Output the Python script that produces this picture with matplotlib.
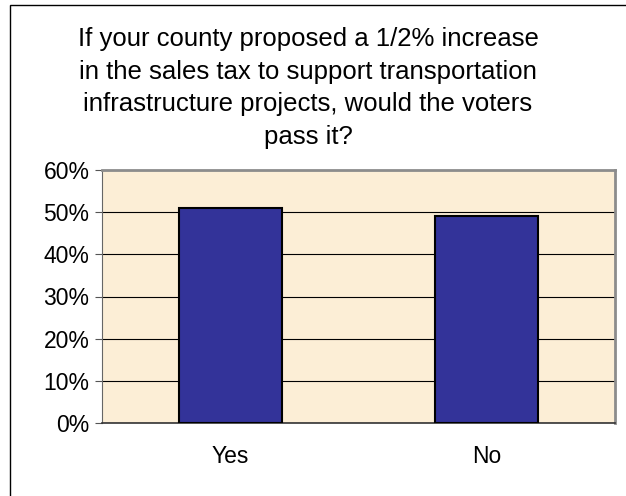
import matplotlib
matplotlib.use("Agg")
import matplotlib.pyplot as plt
from matplotlib.patches import Rectangle
from matplotlib.ticker import PercentFormatter

plt.rcParams['font.family'] = ['Liberation Sans', 'DejaVu Sans']

answers = ["Yes", "No"]
shares = [51, 49]
yticks = [0, 10, 20, 30, 40, 50, 60]
title = ("If your county proposed a 1/2% increase\n"
         "in the sales tax to support transportation\n"
         "infrastructure projects, would the voters\n"
         "pass it?")

W, H = 626, 496
fig = plt.figure(figsize=(W / 100, H / 100), dpi=100)
fig.patch.set_facecolor("white")

# chart frame, runs off the right and bottom edges
fig.patches.append(Rectangle((10 / W, -0.5), 2.0, 1 - 5 / H + 0.5,
                             transform=fig.transFigure, fill=False,
                             edgecolor="black", linewidth=1))

ax = fig.add_axes([102 / W, 1 - 423 / H, (615 - 102) / W, (423 - 170) / H])
ax.set_facecolor("#FCEED6")

x = range(len(answers))
ax.bar(x, shares, width=0.4, color="#333399", edgecolor="black",
       linewidth=1.5, zorder=3)

ax.set_xlim(-0.5, 1.5)
ax.set_ylim(0, 60)
ax.set_yticks(yticks)
ax.yaxis.set_major_formatter(PercentFormatter(decimals=0))
ax.set_xticks(list(x))
ax.set_xticklabels(answers)
ax.grid(axis="y", color="black", linewidth=0.8, zorder=1)

ax.tick_params(axis="y", direction="out", length=5, labelsize=16.5,
               color="#555555", pad=4)
ax.tick_params(axis="x", length=0, labelsize=16.5, pad=16)

for side in ("top", "right"):
    ax.spines[side].set_color("#8C8C8C")
    ax.spines[side].set_linewidth(2)
ax.spines["left"].set_color("#666666")
ax.spines["bottom"].set_color("#333333")
ax.spines["bottom"].set_linewidth(1.2)

fig.text(308 / W, 1 - 27 / H, title, ha="center", va="top",
         fontsize=18.5, linespacing=1.46)

fig.savefig("out.png", dpi=100)
